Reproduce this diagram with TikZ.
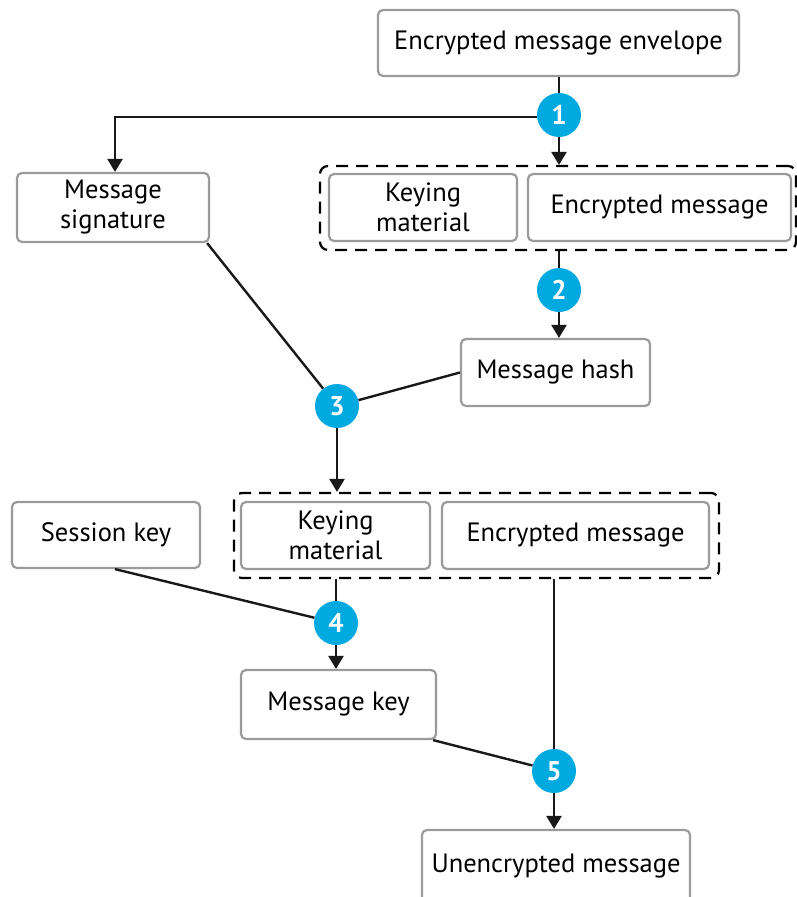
\documentclass[tikz,border=0pt]{standalone}
\usepackage{fontspec}
\setmainfont{PT Sans}
\usetikzlibrary{arrows.meta}
\definecolor{stepblue}{HTML}{00A9E0}
\definecolor{boxgray}{HTML}{9A9A9A}
\begin{document}
\begin{tikzpicture}[x=1pt,y=-1pt,
  box/.style={draw=boxgray,line width=2.2pt,rounded corners=5pt,fill=white,align=center,
    font=\fontsize{26.5}{30}\selectfont,inner sep=0pt},
  grp/.style={draw=black,line width=2.2pt,dash pattern=on 12pt off 8pt,rounded corners=8pt,inner sep=0pt},
  num/.style={circle,fill=stepblue,text=white,minimum size=44pt,inner sep=0pt,
    font=\fontsize{27}{27}\selectfont\bfseries},
  conn/.style={line width=2.4pt,draw=black!90},
  arr/.style={conn,-{Triangle[width=15pt,length=13pt]}}]
\useasboundingbox (0,0) rectangle (797,897);
% boxes
\node[box,minimum width=361pt,minimum height=66pt] (env) at (558.5,43) {Encrypted message envelope};
\node[box,minimum width=192pt,minimum height=69pt] (sig) at (113,207.5) {Message\\signature};
\node[grp,minimum width=476pt,minimum height=84pt] (dash1) at (558,208) {};
\node[box,minimum width=188pt,minimum height=67pt] (km1) at (423,207.5) {Keying\\material};
\node[box,minimum width=263pt,minimum height=67pt] (em1) at (659.5,207.5) {Encrypted message};
\node[box,minimum width=189pt,minimum height=67pt] (hash) at (555.5,372.5) {Message hash};
\node[grp,minimum width=485pt,minimum height=85pt] (dash2) at (476.5,535.5) {};
\node[box,minimum width=189pt,minimum height=67pt] (km2) at (335.5,535.5) {Keying\\material};
\node[box,minimum width=267pt,minimum height=67pt] (em2) at (575.5,535.5) {Encrypted message};
\node[box,minimum width=188pt,minimum height=66pt] (sess) at (106,535) {Session key};
\node[box,minimum width=195pt,minimum height=69pt] (mkey) at (338.5,704.5) {Message key};
\node[box,minimum width=268pt,minimum height=72pt] (unenc) at (556,866) {Unencrypted message};
% step circles
\node[num] (c1) at (559,115) {1};
\node[num] (c2) at (559,290) {2};
\node[num] (c3) at (337,406) {3};
\node[num] (c4) at (336,623) {4};
\node[num] (c5) at (554,771) {5};
\coordinate (split) at (115,117);
% connectors
\draw[conn] (env.south -| c1) -- (c1);
\draw[arr] (c1) -- (c1 |- dash1.north);
\draw[arr] (c1.west |- split) -- (split) -- (sig.north -| split);
\draw[conn] (dash1.south -| c2) -- (c2);
\draw[arr] (c2) -- (c2 |- hash.north);
\draw[conn] ([xshift=-3pt]sig.south east) -- (c3);
\draw[conn] (hash.west) -- (c3);
\draw[arr] (c3) -- (c3 |- dash2.north);
\draw[conn] ([xshift=9pt]sess.south) -- (c4);
\draw[conn] (dash2.south -| c4) -- (c4);
\draw[arr] (c4) -- (c4 |- mkey.north);
\draw[conn] ([xshift=-4pt]mkey.south east) -- (c5);
\draw[conn] (dash2.south -| c5) -- (c5);
\draw[arr] (c5) -- (c5 |- unenc.north);
\end{tikzpicture}
\end{document}
